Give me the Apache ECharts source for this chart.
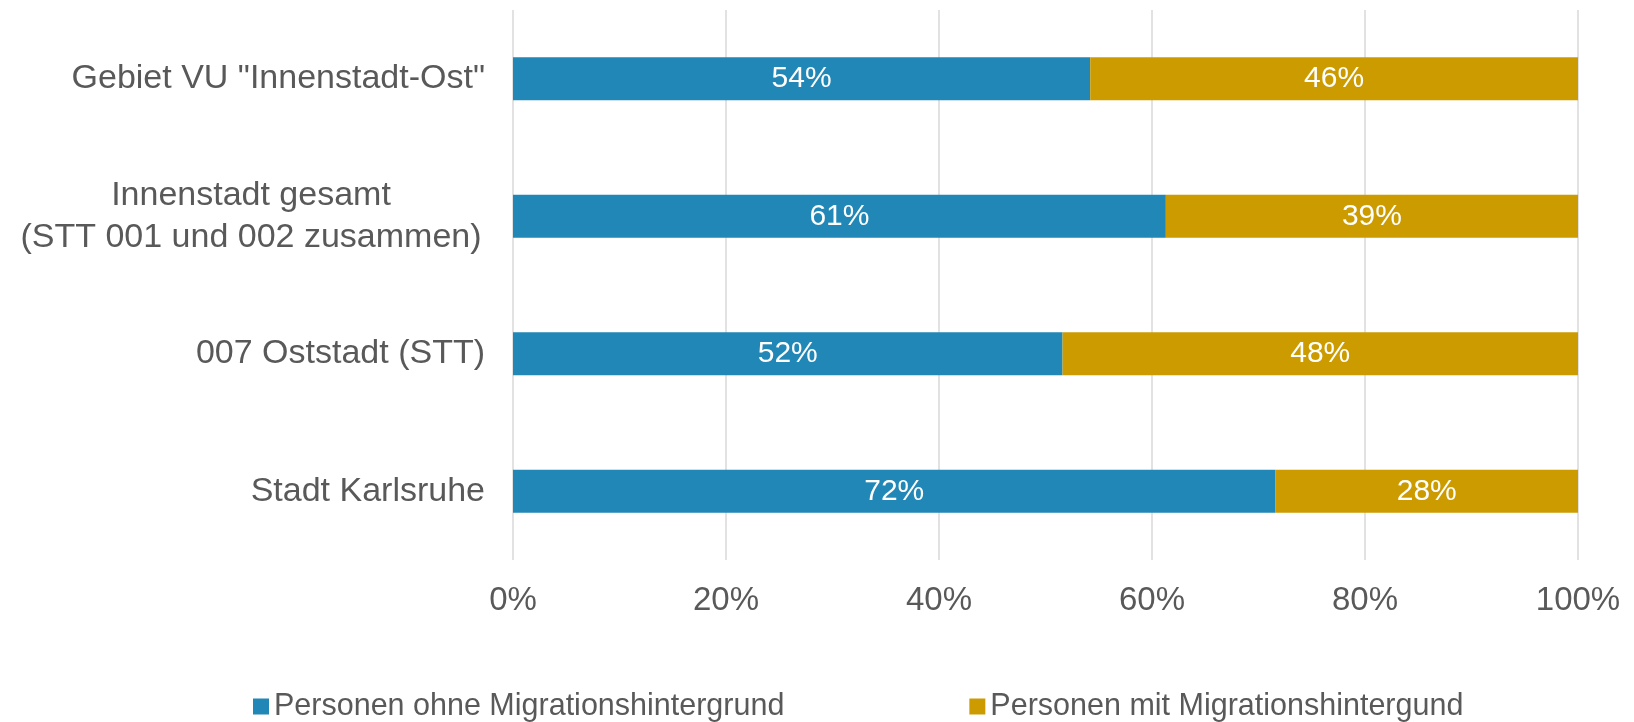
<!DOCTYPE html>
<html>
<head>
<meta charset="utf-8">
<script src="https://cdn.jsdelivr.net/npm/echarts@6/dist/echarts.min.js"></script>
<style>
  html, body { margin: 0; padding: 0; background: #fff; }
  #chart { width: 1634px; height: 722px; }
</style>
</head>
<body>
<div id="chart"></div>
<script>
// categories, top to bottom
var categories = [
    'Gebiet VU "Innenstadt-Ost"',
    'Innenstadt gesamt\n(STT 001 und 002 zusammen)',
    '007 Oststadt (STT)',
    'Stadt Karlsruhe'
];
var seriesNames = ['Personen ohne Migrationshintergrund', 'Personen mit Migrationshintergund'];
var ohneMigration = [54.2, 61.3, 51.6, 71.6];
var mitMigration = [45.8, 38.7, 48.4, 28.4];
var xTicks = [0, 20, 40, 60, 80, 100];

var textColor = '#595959';
var font = 'Liberation Sans, Arial, sans-serif';

var myChart = echarts.init(document.getElementById('chart'));

var barLabel = {
    show: true,
    position: 'inside',
    color: '#ffffff',
    fontSize: 30,
    fontFamily: font,
    formatter: function (p) {
        return Math.round(p.value) + '%';
    }
};

var option = {
    backgroundColor: '#ffffff',
    textStyle: { fontFamily: font },
    grid: {
        left: 513,
        right: 56,
        top: 10,
        bottom: 162
    },
    legend: {
        data: seriesNames,
        left: 248,
        top: 686,
        icon: 'rect',
        itemWidth: 16,
        itemHeight: 16,
        itemGap: 185,
        textStyle: {
            color: textColor,
            fontSize: 30.5,
            fontFamily: font
        }
    },
    xAxis: {
        type: 'value',
        min: xTicks[0],
        max: xTicks[xTicks.length - 1],
        interval: 20,
        axisLine: { show: false },
        axisTick: { show: false },
        splitLine: { lineStyle: { color: '#d9d9d9', width: 1.5 } },
        axisLabel: {
            margin: 24,
            color: textColor,
            fontSize: 33,
            fontFamily: font,
            formatter: '{value}%'
        }
    },
    yAxis: {
        type: 'category',
        inverse: true,
        data: categories,
        axisLine: { show: false },
        axisTick: { show: false },
        axisLabel: {
            margin: 28,
            color: textColor,
            fontSize: 34,
            fontFamily: font,
            lineHeight: 42,
            formatter: function (value) {
                if (value.indexOf('\n') < 0) return value;
                return value.split('\n').map(function (s) {
                    return '{c|' + s + '}';
                }).join('\n');
            },
            rich: {
                c: {
                    width: 468,
                    align: 'center',
                    color: textColor,
                    fontSize: 34,
                    fontFamily: font,
                    lineHeight: 42
                }
            }
        }
    },
    series: [
        {
            name: seriesNames[0],
            type: 'bar',
            stack: 'total',
            barWidth: 43,
            itemStyle: { color: '#2187B6' },
            label: barLabel,
            data: ohneMigration
        },
        {
            name: seriesNames[1],
            type: 'bar',
            stack: 'total',
            barWidth: 43,
            itemStyle: { color: '#CC9B00' },
            label: barLabel,
            data: mitMigration
        }
    ]
};

myChart.setOption(option);
window.onresize = myChart.resize;
</script>
</body>
</html>
